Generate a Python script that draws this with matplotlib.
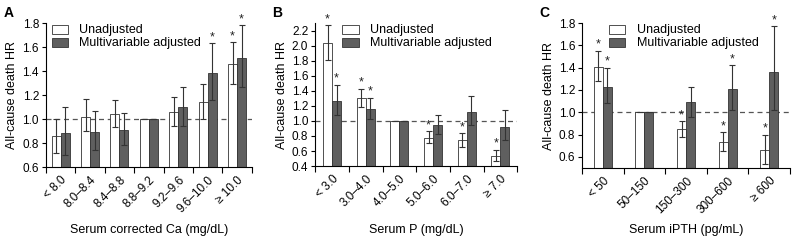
import matplotlib
matplotlib.use("Agg")
import matplotlib.pyplot as plt
import numpy as np

plt.rcParams['font.family'] = ['Liberation Sans', 'DejaVu Sans']

# Panel A: serum corrected Ca
ca_cats = ["< 8.0", "8.0\u20138.4", "8.4\u20138.8", "8.8\u20139.2", "9.2\u20139.6", "9.6\u201310.0", "\u2265 10.0"]
ca_unadj = [0.86, 1.02, 1.04, 1.00, 1.06, 1.14, 1.46]
ca_unadj_lo = [0.72, 0.90, 0.93, 1.00, 0.94, 1.00, 1.29]
ca_unadj_hi = [1.00, 1.17, 1.16, 1.00, 1.18, 1.29, 1.64]
ca_unadj_sig = [False, False, False, False, False, False, True]
ca_adj = [0.88, 0.89, 0.91, 1.00, 1.10, 1.38, 1.51]
ca_adj_lo = [0.70, 0.74, 0.78, 1.00, 0.94, 1.16, 1.27]
ca_adj_hi = [1.10, 1.07, 1.05, 1.00, 1.27, 1.63, 1.78]
ca_adj_sig = [False, False, False, False, False, True, True]

# Panel B: serum P
p_cats = ["< 3.0", "3.0\u20134.0", "4.0\u20135.0", "5.0\u20136.0", "6.0\u20137.0", "\u2265 7.0"]
p_unadj = [2.03, 1.31, 1.00, 0.77, 0.74, 0.54]
p_unadj_lo = [1.81, 1.19, 1.00, 0.70, 0.65, 0.47]
p_unadj_hi = [2.27, 1.43, 1.00, 0.86, 0.84, 0.62]
p_unadj_sig = [True, True, False, True, True, True]
p_adj = [1.27, 1.16, 1.00, 0.95, 1.12, 0.92]
p_adj_lo = [1.08, 1.02, 1.00, 0.83, 0.94, 0.74]
p_adj_hi = [1.48, 1.31, 1.00, 1.08, 1.33, 1.15]
p_adj_sig = [True, True, False, False, False, False]

# Panel C: serum iPTH
pth_cats = ["< 50", "50\u2013150", "150\u2013300", "300\u2013600", "\u2265 600"]
pth_unadj = [1.41, 1.00, 0.85, 0.73, 0.66]
pth_unadj_lo = [1.28, 1.00, 0.78, 0.65, 0.54]
pth_unadj_hi = [1.55, 1.00, 0.92, 0.82, 0.80]
pth_unadj_sig = [True, False, True, True, True]
pth_adj = [1.23, 1.00, 1.09, 1.21, 1.36]
pth_adj_lo = [1.08, 1.00, 0.96, 1.02, 1.02]
pth_adj_hi = [1.40, 1.00, 1.23, 1.42, 1.77]
pth_adj_sig = [True, False, False, True, True]

DARK = '#5f5f5f'
ERR = '#333333'
TFS = 8.5
LFS = 9

fig = plt.figure(figsize=(7.92, 2.40), dpi=100)

panels = [
    dict(rect=[0.058, 0.304, 0.260, 0.600], cats=ca_cats,
         u=ca_unadj, ul=ca_unadj_lo, uh=ca_unadj_hi, us=ca_unadj_sig,
         a=ca_adj, al=ca_adj_lo, ah=ca_adj_hi, as_=ca_adj_sig,
         ylim=(0.6, 1.8), yt=np.arange(0.6, 1.81, 0.2),
         xl="Serum corrected Ca (mg/dL)", letter="A", lx=0.004, legx=0.029),
    dict(rect=[0.398, 0.308, 0.255, 0.596], cats=p_cats,
         u=p_unadj, ul=p_unadj_lo, uh=p_unadj_hi, us=p_unadj_sig,
         a=p_adj, al=p_adj_lo, ah=p_adj_hi, as_=p_adj_sig,
         ylim=(0.4, 2.3), yt=np.arange(0.4, 2.21, 0.2),
         xl="Serum P (mg/dL)", letter="B", lx=0.344, legx=0.134),
    dict(rect=[0.735, 0.300, 0.2625, 0.604], cats=pth_cats,
         u=pth_unadj, ul=pth_unadj_lo, uh=pth_unadj_hi, us=pth_unadj_sig,
         a=pth_adj, al=pth_adj_lo, ah=pth_adj_hi, as_=pth_adj_sig,
         ylim=(0.5, 1.8), yt=np.arange(0.6, 1.81, 0.2),
         xl="Serum iPTH (pg/mL)", letter="C", lx=0.681, legx=0.13),
]

for p in panels:
    ax = fig.add_axes(p['rect'])
    n = len(p['cats'])
    x = np.arange(n)
    axw_px = p['rect'][2] * 792
    w = 9.0 / (axw_px / n)
    u = np.array(p['u']); a = np.array(p['a'])
    uerr = [u - np.array(p['ul']), np.array(p['uh']) - u]
    aerr = [a - np.array(p['al']), np.array(p['ah']) - a]
    ax.axhline(1.0, color='#555555', lw=0.9, ls=(0, (4, 3)), zorder=1)
    ax.bar(x - w / 2, u, w, bottom=0, color='white', edgecolor='#333333', lw=0.6,
           yerr=uerr, error_kw=dict(ecolor=ERR, elinewidth=0.8, capsize=2.5, capthick=0.8),
           label='Unadjusted', zorder=2)
    ax.bar(x + w / 2, a, w, bottom=0, color=DARK, edgecolor='#333333', lw=0.6,
           yerr=aerr, error_kw=dict(ecolor=ERR, elinewidth=0.8, capsize=2.5, capthick=0.8),
           label='Multivariable adjusted', zorder=2)
    for i in range(n):
        if p['us'][i]:
            ax.text(x[i] - w / 2, p['uh'][i], '*', ha='center', va='bottom', fontsize=9, color='#222222')
        if p['as_'][i]:
            ax.text(x[i] + w / 2, p['ah'][i], '*', ha='center', va='bottom', fontsize=9, color='#222222')
    ax.set_xlim(-0.5, n - 0.5)
    ax.set_ylim(*p['ylim'])
    ax.set_yticks(p['yt'])
    ax.set_yticklabels([f"{v:.1f}" for v in p['yt']], fontsize=TFS)
    ax.set_xticks(np.arange(-0.5, n, 1.0))
    ax.set_xticklabels([])
    ax.set_xticks(x, minor=True)
    ax.set_xticklabels(p['cats'], minor=True, rotation=45, ha='right', va='top',
                       rotation_mode='anchor', fontsize=TFS)
    ax.tick_params(axis='x', which='minor', length=0, pad=5)
    ax.tick_params(axis='x', which='major', length=4, width=0.8, direction='out')
    ax.tick_params(axis='y', length=3, width=0.8, pad=2)
    for s in ['top', 'right']:
        ax.spines[s].set_visible(False)
    ax.spines['left'].set_linewidth(0.8)
    ax.spines['bottom'].set_linewidth(0.8)
    ax.set_ylabel("All-cause death HR", fontsize=LFS, labelpad=3)
    r = p['rect']
    fig.text(r[0] + r[2] / 2, 0.042, p['xl'], fontsize=LFS, ha='center', va='center')
    ax.legend(loc='upper left', bbox_to_anchor=(p['legx'], 0.99), frameon=False, fontsize=LFS,
              handlelength=1.3, handleheight=0.75, handletextpad=0.9, labelspacing=0.08,
              borderpad=0, borderaxespad=0)
    fig.text(p['lx'], 0.975, p['letter'], fontsize=10, fontweight='bold', ha='left', va='top')

fig.savefig("out.png", dpi=100)
